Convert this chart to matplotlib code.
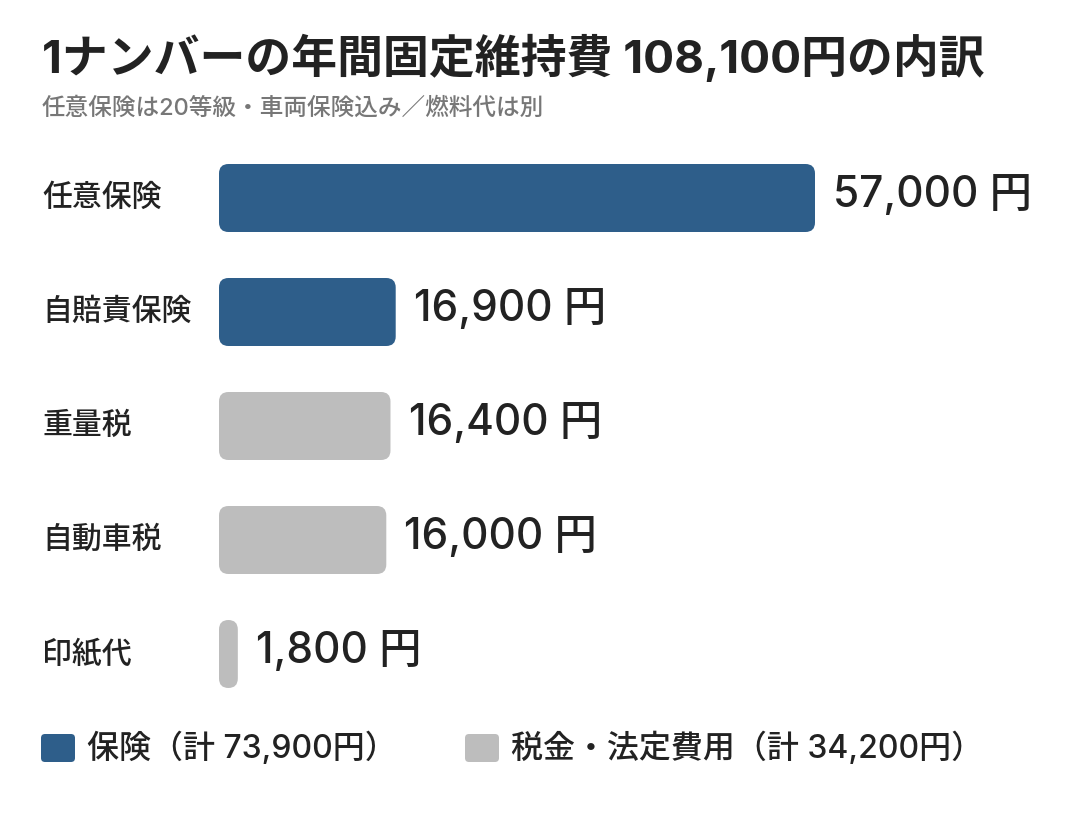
import matplotlib
matplotlib.use("Agg")
import matplotlib.pyplot as plt
from matplotlib.patches import FancyBboxPatch
from matplotlib.transforms import blended_transform_factory

plt.rcParams['font.family'] = ['Inter', 'Noto Sans CJK JP', 'DejaVu Sans']

categories = ['任意保険', '自賠責保険', '重量税', '自動車税', '印紙代']
values = [57000, 16900, 16400, 16000, 1800]
groups = ['保険', '保険', '税金', '税金', '税金']
group_names = ['保険（計 73,900円）', '税金・法定費用（計 34,200円）']

blue = '#2E5E8A'
gray = '#BDBDBD'
text_c = '#222222'
colors = {'保険': blue, '税金': gray}

W, H = 1080, 822
fig = plt.figure(figsize=(W / 100, H / 100), dpi=100)

# axes placed in pixel terms
ax_left, ax_right = 219, 219 + 80000 * 596 / 57000
ax_top, ax_bot = 141, 711
ax = fig.add_axes([ax_left / W, 1 - ax_bot / H, (ax_right - ax_left) / W, (ax_bot - ax_top) / H])
ax.set_xlim(0, 80000)
ax.set_ylim(4.5, -0.5)
ax.axis('off')

bar_h = 68 / 114
px_x = 80000 / (ax_right - ax_left)   # data units per pixel
px_y = 5 / (ax_bot - ax_top)
radius = 9.5

for i, (cat, v, g) in enumerate(zip(categories, values, groups)):
    box = FancyBboxPatch((0, i - bar_h / 2), v, bar_h,
                         boxstyle=f"round,pad=0,rounding_size={radius * px_x}",
                         mutation_aspect=px_y / px_x,
                         fc=colors[g], ec='none')
    ax.add_patch(box)
    ax.annotate(f"{v:,} 円", (v, i), xytext=(13, 2), textcoords='offset points',
                va='center', ha='left', fontsize=30.5, fontweight='medium', color=text_c)
    tr = blended_transform_factory(fig.transFigure, ax.transData)
    ax.text(42 / W, i, cat, transform=tr, va='center', ha='left',
            fontsize=21.5, fontweight='medium', color=text_c)

fig.text(42 / W, 1 - 58 / H, '1ナンバーの年間固定維持費 108,100円の内訳',
         fontsize=33, fontweight='bold', color=text_c, va='center', ha='left')
fig.text(42 / W, 1 - 109 / H, '任意保険は20等級・車両保険込み／燃料代は別',
         fontsize=17, fontweight='medium', color='#777777', va='center', ha='left')

# legend
for x0, name, c in zip([41, 465], group_names, [blue, gray]):
    sq = FancyBboxPatch((x0 / W, 1 - 762 / H), 34 / W, 28 / H,
                        boxstyle=f"round,pad=0,rounding_size={4 / W}",
                        mutation_aspect=W / H,
                        transform=fig.transFigure, fc=c, ec='none')
    fig.patches.append(sq)
    fig.text((x0 + 46) / W, 1 - 748 / H, name, fontsize=23, fontweight='medium',
             color=text_c, va='center', ha='left')

fig.savefig('out.png', dpi=100, facecolor='white')
